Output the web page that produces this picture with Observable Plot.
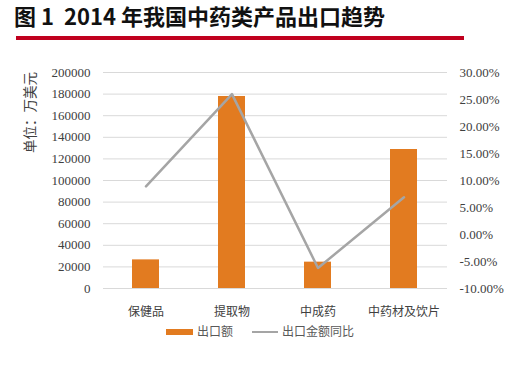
<!DOCTYPE html>
<html>
<head>
<meta charset="utf-8">
<script src="https://cdn.jsdelivr.net/npm/d3@7"></script>
<script src="https://cdn.jsdelivr.net/npm/@observablehq/plot@0.6"></script>
<style>
  body { margin:0; background:#fff; }
  #wrap { position:relative; width:525px; height:366px; overflow:hidden; background:#fff; }
  #title { position:absolute; left:14px; top:1px; font-family:"Noto Sans CJK SC", sans-serif; font-weight:700; font-size:22px; color:#111; white-space:pre; line-height:28px; }
  #rule { position:absolute; left:16px; top:36px; width:448px; height:3.5px; background:#C0001E; }
  #chart { position:absolute; left:0; top:55px; }
  .leg { position:absolute; top:323px; font-family:"Noto Sans CJK SC", sans-serif; font-size:12px; color:#595959; line-height:16px; }
</style>
</head>
<body>
<div id="wrap">
  <div id="title">图 1  2014 年我国中药类产品出口趋势</div>
  <div id="rule"></div>
  <div id="chart"></div>
  <div class="leg" style="left:166px;"><span style="display:inline-block;width:27px;height:6px;background:#E27B20;vertical-align:middle;margin-right:4px;position:relative;top:-1px"></span>出口额</div>
  <div class="leg" style="left:252px;"><span style="display:inline-block;width:26px;height:2px;background:#A5A5A5;vertical-align:middle;margin-right:4px;position:relative;top:-1px"></span>出口金额同比</div>
</div>
<script>
const categories = ["保健品", "提取物", "中成药", "中药材及饮片"];
const exportValue = [26500, 177800, 24400, 128700];
const yoyPct = [8.9, 26.0, -6.2, 6.9];
const leftTicks = [0, 20000, 40000, 60000, 80000, 100000, 120000, 140000, 160000, 180000, 200000];
const rightTicks = [-10, -5, 0, 5, 10, 15, 20, 25, 30];
const yAxisLabel = "单位：万美元";

const leftMax = 200000, rMin = -10, rMax = 30;
const toLeft = p => (p - rMin) / (rMax - rMin) * leftMax;
const fromLeft = v => v / leftMax * (rMax - rMin) + rMin;

const rows = categories.map((c, i) => ({cat: c, value: exportValue[i], yoy: yoyPct[i]}));

const serif = "'Liberation Serif', 'DejaVu Serif', serif";
const chart = Plot.plot({
  width: 525,
  height: 300,
  marginLeft: 103,
  marginRight: 78,
  marginTop: 17,
  marginBottom: 67,
  style: {fontFamily: "'Noto Sans CJK SC', sans-serif", fontSize: "12px", color: "#595959", background: "transparent"},
  x: {domain: categories, paddingInner: 0.686, paddingOuter: 0.343, label: null},
  y: {domain: [0, leftMax], label: null},
  marks: [
    Plot.gridY({ticks: leftTicks, stroke: "#d9d9d9", strokeOpacity: 1, strokeWidth: 1}),
    Plot.axisY({ticks: leftTicks, tickSize: 0, tickPadding: 13, tickFormat: d => String(d), fontFamily: serif, fontSize: 13, label: null, fill: "#404040"}),
    Plot.axisY({anchor: "right", ticks: rightTicks.map(toLeft), tickSize: 0, tickPadding: 12,
      tickFormat: v => { const p = Math.round(fromLeft(v) * 100) / 100; return (Object.is(p, -0) ? 0 : p).toFixed(2) + "%"; },
      fontFamily: serif, fontSize: 13, label: null, fill: "#404040"}),
    Plot.axisX({tickSize: 0, tickPadding: 19, fontSize: 12, label: null, fill: "#404040"}),
    Plot.barY(rows, {x: "cat", y: "value", fill: "#E27B20"}),
    Plot.line(rows, {x: "cat", y: d => toLeft(d.yoy), stroke: "#A5A5A5", strokeWidth: 2.5}),
    Plot.text([yAxisLabel], {frameAnchor: "top-left", text: d => d, rotate: -90, dx: -78, dy: 40, fontSize: 13.5, fill: "#404040", textAnchor: "middle"})
  ]
});
document.getElementById("chart").appendChild(chart);
</script>
</body>
</html>
